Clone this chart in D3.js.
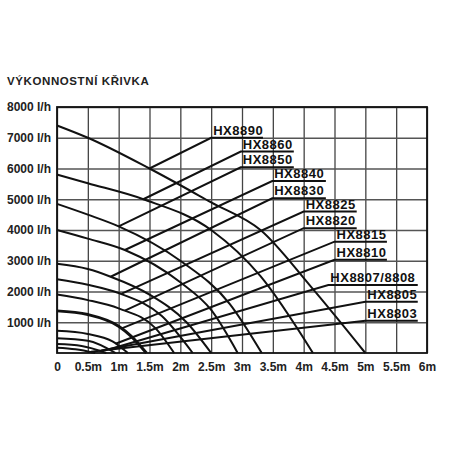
<!DOCTYPE html>
<html><head><meta charset="utf-8">
<script src="https://cdn.jsdelivr.net/npm/d3@7"></script>
<style>body{margin:0;background:#fff}svg{display:block}</style>
</head><body><svg id="c" width="452" height="452"></svg>
<script>
// ---- data ----
const titleText = "VÝKONNOSTNÍ KŘIVKA";
const headTicks = [0,0.5,1,1.5,2,2.5,3,3.5,4,4.5,5,5.5,6];
const headLabels = ["0","0.5m","1m","1.5m","2m","2.5m","3m","3.5m","4m","4.5m","5m","5.5m","6m"];
const flowTicks = [1000,2000,3000,4000,5000,6000,7000,8000];
const flowLabels = ["1000 l/h","2000 l/h","3000 l/h","4000 l/h","5000 l/h","6000 l/h","7000 l/h","8000 l/h"];
const pumpNames = ["HX8890","HX8860","HX8850","HX8840","HX8830","HX8825","HX8820","HX8815","HX8810","HX8807/8808","HX8805","HX8803"];
// performance curves: head (m) and flow (l/h) points
const curveHeads = [
  [0,0.5,1.5,2.5,3.3,4.1,5.0],
  [0,0.5,1.4,2.5,3.3,4.15],
  [0,0.5,1.0,2.0,2.8,3.32],
  [0,0.5,1.1,2.0,2.5,2.93],
  [0,0.5,0.87,1.5,2.1,2.5],
  [0,0.5,1.0,1.7,2.2],
  [0,0.5,1.0,1.6,1.9],
  [0,0.5,1.0,1.2,1.45],
  [0,0.5,0.9,1.15],
  [0,0.5,0.95],
  [0,0.4,0.8],
  [0,0.3,0.62]
];
const curveFlows = [
  [7400,7000,6000,4900,4000,2200,0],
  [5800,5520,5000,4000,2500,0],
  [4850,4500,4120,3000,1600,0],
  [4000,3720,3350,2300,1400,0],
  [2900,2730,2480,1900,1000,0],
  [2400,2220,1950,1200,0],
  [1900,1720,1450,800,0],
  [1370,1250,870,550,0],
  [720,620,380,0],
  [480,400,0],
  [290,230,0],
  [170,120,0]
];
// leader lines: start point on curve -> label underline start
const leaderStartH = [1.5,1.4,1.0,1.1,0.87,1.05,1.1,1.05,0.95,0.85,0.72,0.55];
const leaderStartQ = [6000,5000,4120,3350,2480,1930,1380,800,300,120,80,40];
const labelH = [2.5,2.98,2.98,3.49,3.49,4.0,4.0,4.5,4.5,4.4,5.0,5.0];
const labelQ = [7000,6550,6040,5590,5030,4600,4060,3620,3030,2210,1670,1050];
const labelEndH = [3.34,3.84,3.84,4.36,4.36,4.86,4.86,5.35,5.35,5.85,5.85,5.85];
const thickPump = "HX8815";

// ---- drawing ----
const svg = d3.select("#c");
const x = d3.scaleLinear().domain([0,6]).range([57,427]);
const y = d3.scaleLinear().domain([0,8000]).range([353,107]);
const font = "'Liberation Sans', Arial, sans-serif";

svg.append("text").attr("x",7).attr("y",85).text(titleText)
  .attr("font-family",font).attr("font-weight","bold").attr("font-size",11.5)
  .attr("letter-spacing",0.6).attr("fill","#222");

// grid via axes
const gx = svg.append("g").attr("transform",`translate(0,${y(0)})`)
  .call(d3.axisBottom(x).tickValues(headTicks).tickSize(-(y(0)-y(8000))).tickFormat((d,i)=>headLabels[i]).tickPadding(9));
gx.select(".domain").remove();
gx.selectAll("line").attr("stroke","#444").attr("stroke-width",1.3);
gx.selectAll("text").attr("font-family",font).attr("font-weight","bold").attr("font-size",12).attr("fill","#222");

const gy = svg.append("g").attr("transform",`translate(${x(0)},0)`)
  .call(d3.axisLeft(y).tickValues(flowTicks).tickSize(-(x(6)-x(0))).tickFormat((d,i)=>flowLabels[i]).tickPadding(6));
gy.select(".domain").remove();
gy.selectAll("line").attr("stroke","#555").attr("stroke-width",1.3);
gy.selectAll("text").attr("font-family",font).attr("font-weight","bold").attr("font-size",12).attr("fill","#222");

// frame
svg.append("rect").attr("x",x(0)).attr("y",y(8000)).attr("width",x(6)-x(0)).attr("height",y(0)-y(8000))
  .attr("fill","none").attr("stroke","#111").attr("stroke-width",1.8);

const line = d3.line().x(d=>x(d[0])).y(d=>y(d[1])).curve(d3.curveMonotoneX);
pumpNames.forEach((name,i)=>{
  const pts = curveHeads[i].map((h,j)=>[h,curveFlows[i][j]]);
  svg.append("path").attr("d",line(pts)).attr("fill","none").attr("stroke","#111")
    .attr("stroke-width", name===thickPump?3:2);
  svg.append("path").attr("d",d3.line().x(d=>x(d[0])).y(d=>y(d[1]))([[leaderStartH[i],leaderStartQ[i]],[labelH[i],labelQ[i]],[labelEndH[i],labelQ[i]]]))
    .attr("fill","none").attr("stroke","#111").attr("stroke-width",2);
  svg.append("text").attr("x",x(labelH[i])+2).attr("y",y(labelQ[i])-3).text(name)
    .attr("font-family",font).attr("font-weight","bold").attr("font-size",13).attr("letter-spacing",0.5).attr("fill","#111");
});
</script></body></html>
